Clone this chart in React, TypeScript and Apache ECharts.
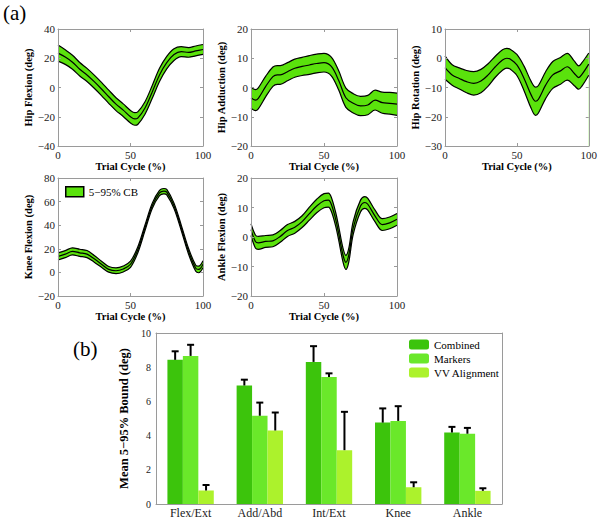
import React, { useEffect, useRef } from 'react';
import * as echarts from 'echarts';

const FONT = 'Liberation Serif';
const BAND_GREEN = '#5ae20c';
const AXIS_GRAY = '#9a9a9a';

// ---- Panel (a) data: gait curves (mean and half-width of 5-95% band) ----
const hipFlexX = [0, 5, 10, 15, 20, 25, 30, 35, 40, 45, 50, 53, 55, 60, 65, 70, 75, 80, 85, 90, 95, 100];
const hipFlexMean = [23.5, 20.8, 17.3, 12.5, 8.6, 4, -1, -6.3, -11.4, -15.5, -20, -21.5, -21, -14, -3, 8.6, 17, 22.5, 24.5, 24, 25, 26];
const hipFlexHalf = [5.5, 5, 4.8, 4.6, 4.5, 4.5, 4.5, 4.5, 4.4, 4.3, 4.3, 4.3, 4.3, 4.3, 4.4, 4.5, 4.3, 4, 3.4, 3.3, 3.4, 3.4];

const hipAddX = [0, 3, 5, 10, 15, 18, 20, 25, 30, 35, 40, 45, 50, 55, 60, 65, 70, 75, 80, 85, 90, 95, 100];
const hipAddMean = [-3.5, -4.3, -3.7, 0.3, 3.7, 4.3, 4.3, 5.4, 6.6, 7.2, 7.7, 8.2, 8.5, 7.2, 2.5, -3.5, -5.4, -6.3, -6, -4.3, -5.2, -5.4, -5.7];
const hipAddHalf = [3.6, 3.6, 3.6, 3.5, 3.3, 3.2, 3.2, 3.1, 3.1, 3.1, 3.2, 3.2, 3.2, 3.2, 3.3, 3.3, 3.3, 3.3, 3.3, 3.4, 3.6, 3.7, 3.8];

const hipRotX = [0, 5, 10, 15, 20, 25, 30, 35, 40, 43, 45, 50, 55, 60, 63, 65, 70, 75, 80, 85, 90, 93, 95, 100];
const hipRotMean = [-3.2, -5.7, -6.9, -8, -8.6, -7.8, -5.7, -2.9, -0.6, 0, -0.2, -2.3, -6.9, -12.6, -14.7, -14, -9.2, -5.7, -4.4, -2.9, -5.2, -6.6, -5.7, -2];
const hipRotHalf = [4, 3.5, 3.6, 3.8, 4, 4, 3.8, 3.6, 3.5, 3.4, 3.4, 3.6, 4.2, 4.6, 4.8, 4.7, 4.6, 4.6, 4.6, 4.6, 4.2, 4, 4, 3.8];

const kneeX = [0, 5, 10, 15, 20, 25, 30, 35, 40, 45, 50, 55, 60, 65, 70, 73, 75, 80, 85, 90, 95, 97, 100];
const kneeMean = [13.5, 15.5, 17.8, 16.6, 15.5, 11.5, 6.9, 2.6, 1.4, 2.9, 6.9, 19, 37.8, 56.4, 67.3, 68.8, 68, 56.4, 37.8, 18, 3.5, 2.5, 6.9];
const kneeHalf = [3, 3, 3, 3, 3, 2.8, 2.6, 2.4, 2.4, 2.5, 2.6, 2.5, 2.4, 2.3, 2.3, 2.3, 2.3, 2.3, 2.3, 2.4, 2.6, 2.8, 3];

const ankleX = [0, 3, 5, 10, 15, 20, 25, 30, 35, 40, 45, 50, 53, 55, 58, 60, 63, 65, 67, 70, 75, 78, 80, 85, 90, 95, 100];
const ankleMean = [2.5, -1.5, -2, -1.5, -1.3, 0.2, 2.2, 3.3, 5.2, 7.9, 10.5, 12.3, 12.5, 11.1, 6, 1.4, -6.1, -8.6, -6.1, 3.1, 10.5, 11.7, 11.1, 7.1, 4.2, 4.8, 6];
const ankleHalf = [2, 2.2, 2.2, 2, 2, 2, 2, 2, 2, 2.2, 2.3, 2.4, 2.4, 2.4, 2.3, 2.3, 2.3, 2.4, 2.3, 2.2, 2, 2, 2, 2, 2, 2, 2];

const cycleTicks = { min: 0, max: 100, interval: 50 };

// ---- Panel (b) data: mean 5-95% bound per joint ----
const categories = ['Flex/Ext', 'Add/Abd', 'Int/Ext', 'Knee', 'Ankle'];
const barNames = ['Combined', 'Markers', 'VV Alignment'];
const barColors = ['#3cc40c', '#6ae82a', '#acf22c'];
const combined = [8.43, 6.93, 8.31, 4.76, 4.18];
const combinedErr = [0.5, 0.34, 0.92, 0.83, 0.33];
const markers = [8.66, 5.16, 7.43, 4.86, 4.11];
const markersErr = [0.65, 0.77, 0.21, 0.86, 0.34];
const vvAlign = [0.79, 4.3, 3.15, 0.98, 0.77];
const vvAlignErr = [0.32, 1.05, 2.24, 0.29, 0.15];

const LEGEND_BAND = '5\u221295% CB';

const panels = [
  { name: 'Hip Flexion (deg)', x: hipFlexX, mean: hipFlexMean, half: hipFlexHalf, min: -40, max: 40, interval: 20, box: { left: 58, top: 29, width: 145, height: 117 }, nameGap: 20 },
  { name: 'Hip Adduction (deg)', x: hipAddX, mean: hipAddMean, half: hipAddHalf, min: -20, max: 20, interval: 10, box: { left: 251, top: 29, width: 146, height: 117 }, nameGap: 20 },
  { name: 'Hip Rotation (deg)', x: hipRotX, mean: hipRotMean, half: hipRotHalf, min: -30, max: 10, interval: 10, box: { left: 445, top: 29, width: 147, height: 117 }, nameGap: 23 },
  { name: 'Knee Flexion (deg)', x: kneeX, mean: kneeMean, half: kneeHalf, min: -20, max: 80, interval: 20, box: { left: 58, top: 178, width: 145, height: 118 }, nameGap: 20, legend: true },
  { name: 'Ankle Flexion (deg)', x: ankleX, mean: ankleMean, half: ankleHalf, min: -20, max: 20, interval: 10, box: { left: 251, top: 178, width: 146, height: 118 }, nameGap: 20 },
];

const minusFmt = (v: number) => String(v).replace('-', '\u2212');

function buildOption() {
  const grid: any[] = [];
  const xAxis: any[] = [];
  const yAxis: any[] = [];
  const series: any[] = [];

  const tickCommon = { inside: true, length: 3, lineStyle: { color: AXIS_GRAY } };
  const lineCommon = { show: true, onZero: false, lineStyle: { color: AXIS_GRAY, width: 1 } };
  const SMOOTH = 0.35;

  panels.forEach((p, i) => {
    grid.push({ ...p.box, containLabel: false });
    const xi = xAxis.length;
    xAxis.push({
      type: 'value', gridIndex: i, ...cycleTicks, position: 'bottom', z: 6,
      name: 'Trial Cycle (%)', nameLocation: 'middle', nameGap: 12,
      nameTextStyle: { fontFamily: FONT, fontWeight: 'bold', fontSize: 10.5, color: '#000' },
      axisLine: lineCommon, axisTick: tickCommon,
      axisLabel: { fontFamily: FONT, fontSize: 11, color: '#222', margin: 3 },
      splitLine: { show: false },
    });
    xAxis.push({
      type: 'value', gridIndex: i, ...cycleTicks, position: 'top', z: 6,
      axisLine: lineCommon, axisTick: tickCommon, axisLabel: { show: false }, splitLine: { show: false },
    });
    const yi = yAxis.length;
    yAxis.push({
      type: 'value', gridIndex: i, min: p.min, max: p.max, interval: p.interval, position: 'left', z: 6,
      name: p.name, nameLocation: 'middle', nameGap: p.nameGap,
      nameTextStyle: { fontFamily: FONT, fontWeight: 'bold', fontSize: 10.5, color: '#000' },
      axisLine: lineCommon, axisTick: tickCommon,
      axisLabel: { fontFamily: FONT, fontSize: 11, color: '#222', margin: 3, formatter: minusFmt },
      splitLine: { show: false },
    });
    yAxis.push({
      type: 'value', gridIndex: i, min: p.min, max: p.max, interval: p.interval, position: 'right', z: 6,
      axisLine: lineCommon, axisTick: tickCommon, axisLabel: { show: false }, splitLine: { show: false },
    });
    const edge = { color: '#000', width: 1.2 };
    // upper bound: green fill down to the axis
    series.push({
      type: 'line', name: p.legend ? LEGEND_BAND : 'upper' + i, xAxisIndex: xi, yAxisIndex: yi,
      data: p.x.map((v, j) => [v, p.mean[j] + p.half[j]]),
      showSymbol: false, symbol: 'none', smooth: SMOOTH, lineStyle: edge,
      itemStyle: { color: BAND_GREEN },
      areaStyle: { color: BAND_GREEN, opacity: 1, origin: 'start' }, z: 2,
    });
    // lower bound: white fill below it, leaving the green band
    series.push({
      type: 'line', name: 'lower' + i, xAxisIndex: xi, yAxisIndex: yi,
      data: p.x.map((v, j) => [v, p.mean[j] - p.half[j]]),
      showSymbol: false, symbol: 'none', smooth: SMOOTH, lineStyle: edge,
      itemStyle: { color: '#fff' },
      areaStyle: { color: '#fff', opacity: 1, origin: 'start' }, z: 3,
    });
    series.push({
      type: 'line', name: 'mean' + i, xAxisIndex: xi, yAxisIndex: yi,
      data: p.x.map((v, j) => [v, p.mean[j]]),
      showSymbol: false, symbol: 'none', smooth: SMOOTH, lineStyle: edge, z: 4,
    });
  });

  // ---- bar chart ----
  const gi = grid.length;
  grid.push({ left: 156, top: 333, width: 346, height: 174 });
  const bx = xAxis.length;
  xAxis.push({
    type: 'category', gridIndex: gi, data: categories, position: 'bottom',
    axisLine: lineCommon, axisTick: { ...tickCommon, alignWithLabel: true },
    axisLabel: { fontFamily: FONT, fontSize: 12, color: '#222', margin: 3 },
  });
  xAxis.push({
    type: 'category', gridIndex: gi, data: categories, position: 'top',
    axisLine: lineCommon, axisTick: { ...tickCommon, alignWithLabel: true }, axisLabel: { show: false },
  });
  const by = yAxis.length;
  yAxis.push({
    type: 'value', gridIndex: gi, min: 0, max: 10, interval: 2, position: 'left',
    name: 'Mean 5\u221295% Bound (deg)', nameLocation: 'middle', nameGap: 18,
    nameTextStyle: { fontFamily: FONT, fontWeight: 'bold', fontSize: 12.5, color: '#000' },
    axisLine: lineCommon, axisTick: tickCommon,
    axisLabel: { fontFamily: FONT, fontSize: 10, color: '#222', margin: 5 },
    splitLine: { show: false },
  });
  yAxis.push({
    type: 'value', gridIndex: gi, min: 0, max: 10, interval: 2, position: 'right',
    axisLine: lineCommon, axisTick: tickCommon, axisLabel: { show: false }, splitLine: { show: false },
  });

  const barVals = [combined, markers, vvAlign];
  const barErrs = [combinedErr, markersErr, vvAlignErr];
  const catGap = 0.33;
  barVals.forEach((vals, k) => {
    series.push({
      type: 'bar', name: barNames[k], xAxisIndex: bx, yAxisIndex: by,
      data: vals, barGap: '0%', barCategoryGap: catGap * 100 + '%',
      itemStyle: { color: barColors[k] }, z: 2,
    });
  });
  barVals.forEach((vals, k) => {
    series.push({
      type: 'custom', name: 'err' + k, xAxisIndex: bx, yAxisIndex: by, z: 5,
      data: vals.map((v, i) => [i, v, v + barErrs[k][i]]),
      encode: { x: 0, y: 1 },
      renderItem: (_params: any, api: any) => {
        const band = api.size([1, 0])[0];
        const bw = (band * (1 - catGap)) / 3;
        const cx = api.coord([api.value(0), 0])[0] + (k - 1) * bw;
        const y0 = api.coord([api.value(0), api.value(1)])[1];
        const y1 = api.coord([api.value(0), api.value(2)])[1];
        return {
          type: 'group',
          children: [
            { type: 'line', shape: { x1: cx, y1: y0, x2: cx, y2: y1 }, style: { stroke: '#000', lineWidth: 2 } },
            { type: 'line', shape: { x1: cx - 3.5, y1: y1, x2: cx + 3.5, y2: y1 }, style: { stroke: '#000', lineWidth: 2 } },
          ],
        };
      },
    });
  });

  return {
    animation: false,
    backgroundColor: '#fff',
    textStyle: { fontFamily: FONT },
    grid, xAxis, yAxis, series,
    legend: [
      {
        data: barNames, orient: 'vertical', left: 409, top: 339, padding: 0,
        itemWidth: 20, itemHeight: 10, itemGap: 3, selectedMode: false,
        textStyle: { fontFamily: FONT, fontSize: 11, color: '#000', lineHeight: 10 },
      },
      {
        data: [{ name: LEGEND_BAND, icon: 'rect', itemStyle: { color: BAND_GREEN, borderColor: '#000', borderWidth: 1.5 } }],
        left: 65, top: 186, padding: 0, itemWidth: 18, itemHeight: 10, selectedMode: false,
        textStyle: { fontFamily: FONT, fontSize: 11, color: '#000', lineHeight: 10 },
      },
    ],
    graphic: [
      { type: 'text', left: 3, top: 2, style: { text: '(a)', font: '21px Liberation Serif', fill: '#000' } },
      { type: 'text', left: 73, top: 338, style: { text: '(b)', font: '21px Liberation Serif', fill: '#000' } },
    ],
  };
}

export default function App() {
  const ref = useRef<HTMLDivElement>(null);
  useEffect(() => {
    if (!ref.current) return;
    const chart = echarts.init(ref.current, undefined, { renderer: 'svg' });
    chart.setOption(buildOption() as any);
    return () => chart.dispose();
  }, []);
  return <div ref={ref} style={{ position: 'absolute', left: 0, top: 0, width: 600, height: 519 }} />;
}
